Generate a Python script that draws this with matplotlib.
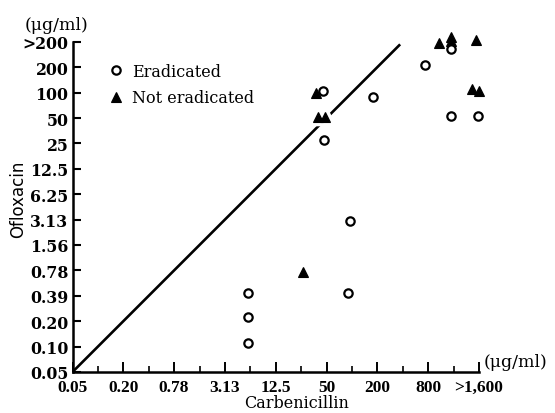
import matplotlib
matplotlib.use("Agg")
import matplotlib.pyplot as plt
from matplotlib.ticker import FixedLocator, NullFormatter

# MIC values (ug/ml); ">200" sits at 400, ">1,600" at 3200
BASE = 200 / 2 ** 12  # lowest dilution (shown as 0.05)

erad_carb = [5.87, 5.87, 5.87, 95.3, 90.1, 45.4, 46.7, 178, 736, 1490, 1490, 3110]
erad_oflx = [0.42, 0.22, 0.108, 3.0, 0.42, 104, 27.4, 88.9, 213, 329, 52.8, 52.8]

not_carb = [26.2, 37.6, 39.8, 48.0, 1078, 1493, 1493, 2965, 2654, 3200]
not_oflx = [0.75, 98.6, 51.4, 51.4, 386, 456, 408, 420, 110, 104]

line_x = [BASE, 373]
line_y = [BASE, 373]

x_labels = ["0.05", "0.20", "0.78", "3.13", "12.5", "50", "200", "800", ">1,600"]
y_labels = ["0.05", "0.10", "0.20", "0.39", "0.78", "1.56", "3.13", "6.25",
            "12.5", "25", "50", "100", "200", ">200"]

SERIF = "DejaVu Serif"

fig = plt.figure(figsize=(5.55, 4.14), dpi=100)
ax = fig.add_axes([72.5 / 555, 41 / 414, 406.4 / 555, 330.2 / 414])
ax.set_xscale("log", base=2)
ax.set_yscale("log", base=2)

ax.plot(line_x, line_y, color="black", lw=1.9, solid_capstyle="butt", zorder=1)

# white halo around the triangles, breaks the line like in the original
ax.plot(not_carb, not_oflx, ls="none", marker="^", ms=7.5, mfc="white",
        mec="white", mew=6, zorder=2, clip_on=False)
ax.plot(not_carb, not_oflx, ls="none", marker="^", ms=7.5, mfc="black",
        mec="black", mew=0.8, zorder=3, label="Not eradicated", clip_on=False)
ax.plot(erad_carb, erad_oflx, ls="none", marker="o", ms=6, mfc="white",
        mec="black", mew=1.6, zorder=4, label="Eradicated", clip_on=False)

ax.set_xlim(BASE, BASE * 2 ** 16)
ax.set_ylim(BASE, BASE * 2 ** 13)

ax.xaxis.set_major_locator(FixedLocator([BASE * 2 ** k for k in range(0, 17, 2)]))
ax.xaxis.set_minor_locator(FixedLocator([BASE * 2 ** k for k in range(1, 17, 2)]))
ax.xaxis.set_minor_formatter(NullFormatter())
ax.set_xticklabels(x_labels)
ax.yaxis.set_major_locator(FixedLocator([BASE * 2 ** k for k in range(14)]))
ax.yaxis.set_minor_locator(FixedLocator([]))
ax.set_yticklabels(y_labels)

for lab in ax.get_yticklabels():
    lab.set_fontfamily(SERIF)
    lab.set_fontweight("bold")
    lab.set_fontsize(11.3)
for lab in ax.get_xticklabels():
    lab.set_fontfamily("Liberation Serif")
    lab.set_fontweight("bold")
    lab.set_fontsize(12.5)

ax.tick_params(axis="x", which="major", direction="in", length=7.5, width=1.4, pad=5)
ax.tick_params(axis="x", which="minor", direction="in", length=4, width=1.2)
ax.tick_params(axis="y", direction="in", length=6, width=1.5, pad=3)

for side in ["top", "right"]:
    ax.spines[side].set_visible(False)
for side in ["left", "bottom"]:
    ax.spines[side].set_linewidth(1.8)

fig.text(18 / 555, 1 - 199 / 414, "Ofloxacin", fontfamily="DejaVu Sans",
         fontsize=12, rotation=90, ha="center", va="center")
fig.text(297 / 555, 1 - 404 / 414, "Carbenicillin", fontfamily=SERIF,
         fontsize=11.5, ha="center", va="center")

fig.text(56 / 555, 1 - 25 / 414, "(μg/ml)", fontfamily=SERIF, fontsize=12.5,
         ha="center", va="center")
fig.text(484 / 555, 1 - 363 / 414, "(μg/ml)", fontfamily=SERIF, fontsize=12.5,
         ha="left", va="center")

h, l = ax.get_legend_handles_labels()
ax.legend(h[::-1], l[::-1], loc="upper left",
          bbox_to_anchor=(100 / 555, 1 - 56 / 414),
          bbox_transform=fig.transFigure, frameon=False, borderpad=0,
          handlelength=1, handletextpad=0.5, labelspacing=0.58, numpoints=1,
          prop={"family": SERIF, "size": 11.5})

fig.savefig("out.png", dpi=100)
